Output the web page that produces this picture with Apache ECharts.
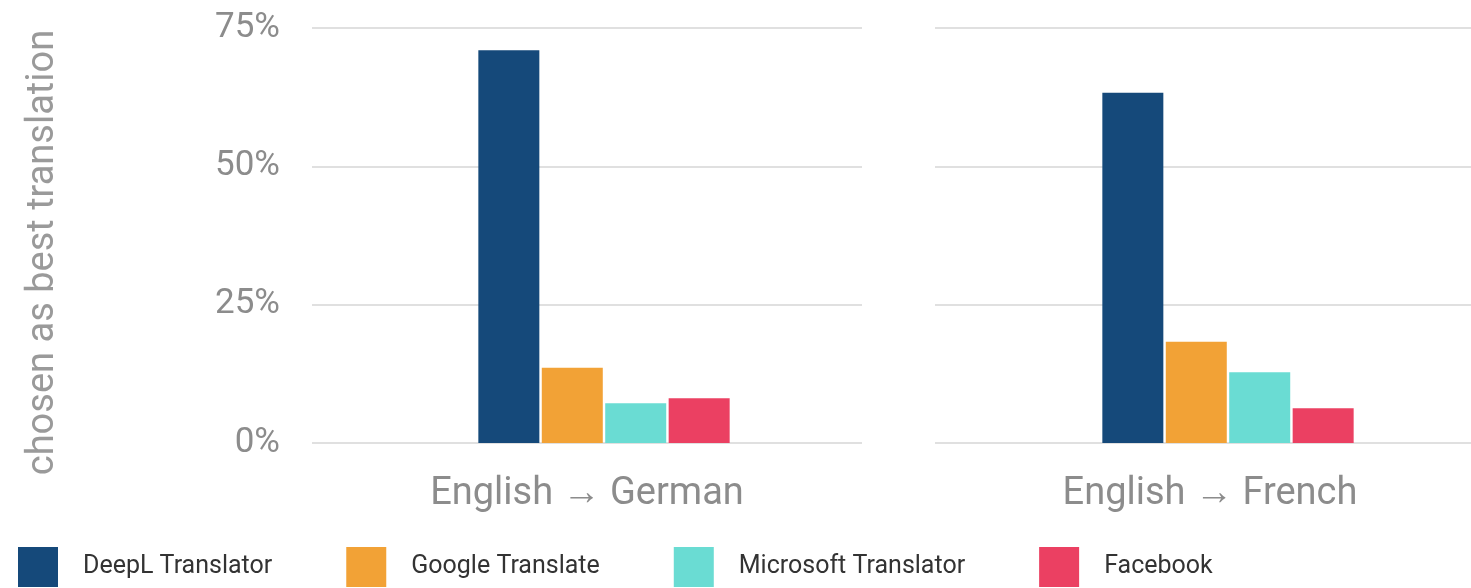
<!DOCTYPE html>
<html>
<head>
<meta charset="utf-8">
<script src="https://cdn.jsdelivr.net/npm/echarts@6/dist/echarts.min.js"></script>
<style>
  html, body { margin: 0; padding: 0; background: #fff; }
  #chart { width: 1471px; height: 588px; }
</style>
</head>
<body>
<div id="chart"></div>
<script>
// data
const categories = ['English → German', 'English → French'];
const seriesNames = ['DeepL Translator', 'Google Translate', 'Microsoft Translator', 'Facebook'];
const deepl = [71.0, 63.3];
const google = [13.6, 18.3];
const microsoft = [7.2, 12.8];
const facebook = [8.1, 6.3];
const yTicks = [0, 25, 50, 75];

const colors = ['#15497a', '#f2a236', '#6adcd3', '#eb4062'];
const values = [deepl, google, microsoft, facebook];

const chart = echarts.init(document.getElementById('chart'));

const gridLine = { show: true, lineStyle: { color: '#e0e0e0', width: 2 } };

const yMin = yTicks[0], yMax = yTicks[yTicks.length - 1], yStep = yTicks[1] - yTicks[0];

// grid 0/2 carry gridlines and labels, grid 1/3 hold the bars
const grids = [
    { left: 312, width: 550, top: 28, height: 415 },
    { left: 346, width: 516, top: 28, height: 415 },
    { left: 935, width: 536, top: 28, height: 415 },
    { left: 985, width: 486, top: 28, height: 415 }
];

const xAxes = grids.map((g, i) => ({
    gridIndex: i,
    type: 'category',
    data: [categories[i < 2 ? 0 : 1]],
    show: i % 2 === 0,
    axisLine: { show: false },
    axisTick: { show: false },
    axisLabel: {
        margin: 32, fontFamily: 'Roboto', fontSize: 38, color: '#8c8c8c',
        padding: i === 2 ? [0, 0, 0, 14] : 0
    }
}));

const yAxes = grids.map((g, i) => ({
    gridIndex: i,
    type: 'value',
    min: yMin,
    max: yMax,
    interval: yStep,
    show: i % 2 === 0,
    axisLine: { show: false },
    axisTick: { show: false },
    splitLine: i % 2 === 0 ? gridLine : { show: false },
    axisLabel: i === 0
        ? { formatter: '{value}%', margin: 32, fontFamily: 'Roboto', fontSize: 35, color: '#8c8c8c' }
        : { show: false },
    name: i === 0 ? 'chosen as best translation' : '',
    nameLocation: 'middle',
    nameGap: 250,
    nameTextStyle: { fontFamily: 'Roboto', fontSize: 38, color: '#9a9a9a', padding: [0, 34, 0, 0] }
}));

const series = [];
[0, 1].forEach(c => {
    seriesNames.forEach((name, s) => {
        series.push({
            name: name,
            type: 'bar',
            xAxisIndex: c * 2 + 1,
            yAxisIndex: c * 2 + 1,
            barWidth: 61,
            barGap: '4%',
            itemStyle: { color: colors[s] },
            data: [values[s][c]]
        });
    });
});

const option = {
    animation: false,
    color: colors,
    grid: grids,
    xAxis: xAxes,
    yAxis: yAxes,
    legend: {
        data: seriesNames,
        left: 18,
        top: 547,
        padding: 0,
        icon: 'rect',
        itemWidth: 40,
        itemHeight: 40,
        itemGap: 74,
        selectedMode: false,
        textStyle: { fontFamily: 'Roboto', fontSize: 25, color: '#333', padding: [8, 0, 0, 20] }
    },
    series: series
};

option && chart.setOption(option);
</script>
</body>
</html>
